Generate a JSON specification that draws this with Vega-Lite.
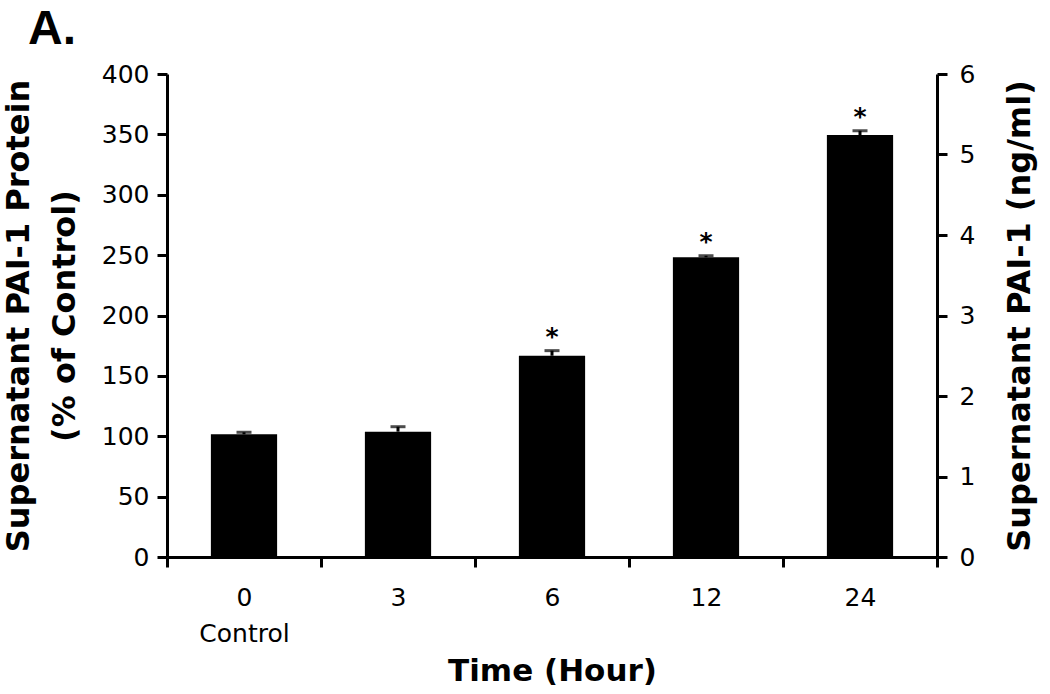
{
  "$schema": "https://vega.github.io/schema/vega-lite/v6.json",
  "width": 770,
  "height": 483,
  "autosize": {"type": "none"},
  "padding": {"left": 167, "top": 74, "right": 113, "bottom": 137},
  "background": "white",
  "title": {"text": "A.", "anchor": "start", "frame": "group", "dx": -139, "fontSize": 48, "font": "Liberation Sans", "fontWeight": "bold", "color": "black", "offset": 8},
  "config": {
    "view": {"stroke": null},
    "axis": {"domainColor": "black", "domainWidth": 3, "tickColor": "black", "tickWidth": 3, "tickSize": 10, "grid": false, "labelFont": "DejaVu Sans", "labelFontSize": 25, "labelColor": "black", "titleFont": "DejaVu Sans", "titleFontWeight": "bold", "titleFontSize": 32, "titleColor": "black"}
  },
  "layer": [
    {
      "data": {"values": [
        {"time": "0", "pct": 101.6, "upper": 103.3, "sig": ""},
        {"time": "3", "pct": 103.8, "upper": 107.9, "sig": ""},
        {"time": "6", "pct": 166.7, "upper": 170.9, "sig": "*"},
        {"time": "12", "pct": 248.2, "upper": 249.5, "sig": "*"},
        {"time": "24", "pct": 349.5, "upper": 353.0, "sig": "*"}
      ]},
      "encoding": {
        "x": {"field": "time", "type": "nominal", "sort": null,
          "scale": {"paddingInner": 0, "paddingOuter": 0},
          "axis": {"labelAngle": 0, "tickBand": "extent", "labelPadding": 18, "labelLineHeight": 36,
            "labelExpr": "datum.value == '0' ? ['0', 'Control'] : datum.value",
            "title": "Time (Hour)", "titlePadding": 10, "titleFontSize": 31}}
      },
      "layer": [
        {
          "mark": {"type": "bar", "color": "black", "width": {"band": 0.43}},
          "encoding": {
            "y": {"field": "pct", "type": "quantitative",
              "scale": {"domain": [0, 400], "nice": false},
              "axis": {"values": [0, 50, 100, 150, 200, 250, 300, 350, 400], "labelPadding": 8,
                "title": ["Supernatant PAI-1 Protein", "(% of Control)"], "titleLineHeight": 46, "titlePadding": 20}}
          }
        },
        {
          "mark": {"type": "rule", "color": "black", "strokeWidth": 3},
          "encoding": {"y": {"field": "pct", "type": "quantitative"}, "y2": {"field": "upper"}}
        },
        {
          "mark": {"type": "tick", "color": "black", "thickness": 3, "size": 15},
          "encoding": {"y": {"field": "upper", "type": "quantitative"}}
        },
        {
          "mark": {"type": "text", "color": "black", "font": "DejaVu Sans", "fontWeight": "bold", "fontSize": 25, "baseline": "alphabetic", "dy": -6},
          "encoding": {"y": {"field": "upper", "type": "quantitative"}, "text": {"field": "sig"}}
        }
      ]
    },
    {
      "data": {"values": [{"ng": 0}, {"ng": 6}]},
      "mark": {"type": "point", "opacity": 0},
      "encoding": {
        "y": {"field": "ng", "type": "quantitative", "scale": {"domain": [0, 6], "nice": false},
          "axis": {"orient": "right", "values": [0, 1, 2, 3, 4, 5, 6], "labelPadding": 12,
            "title": "Supernatant PAI-1 (ng/ml)", "titleAngle": 270, "titleBaseline": "top", "titlePadding": 30}}
      }
    }
  ],
  "resolve": {"scale": {"y": "independent"}}
}
